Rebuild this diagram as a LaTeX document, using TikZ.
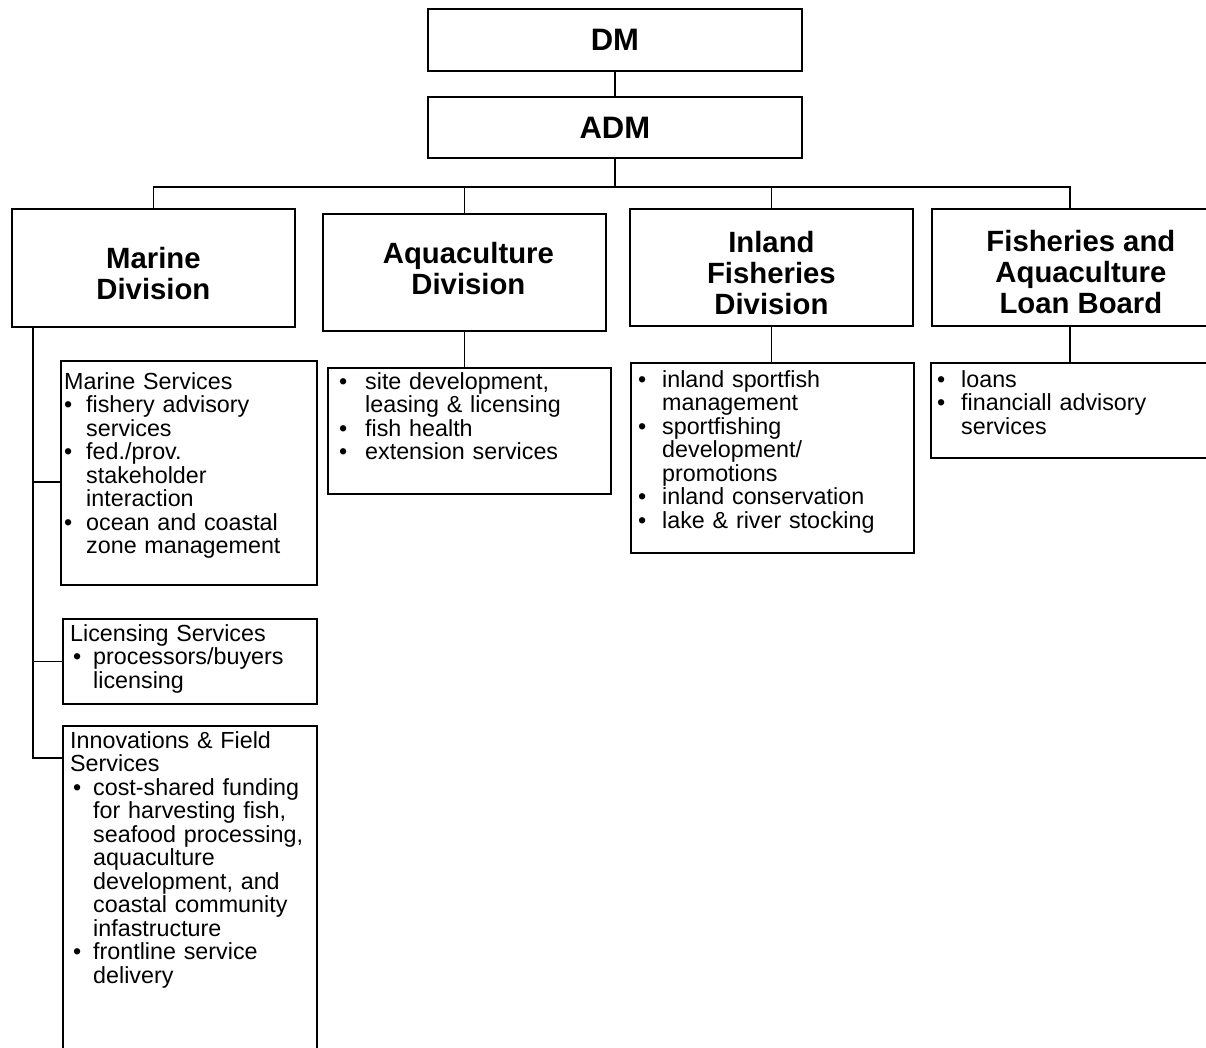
\documentclass[tikz,border=0pt]{standalone}
\usepackage{fontspec}
\setmainfont{Liberation Sans}
\newcommand\bitem[3]{\par\hangindent=#1\hangafter=1\noindent\makebox[#1][l]{\hspace{#2}\textbullet}\strut#3\par}
\newcommand\hdline[1]{\par\noindent\strut#1\par}
\newcommand\tightlines{\lineskiplimit=-50pt\relax}
\begin{document}
\begin{tikzpicture}[x=1pt,y=-1pt,
 box/.style={draw, line width=1.8pt, rectangle, inner sep=0pt, anchor=north west, align=center},
 ttl/.style={font=\bfseries\fontsize{29.3}{31}\selectfont\tightlines, align=center, inner sep=0pt},
 big/.style={font=\bfseries\fontsize{31}{33}\selectfont},
 txt/.style={anchor=north west, inner sep=0pt, align=left, text width=290pt, font=\fontsize{23.3}{23.5}\selectfont\tightlines},
 conn/.style={line width=1.8pt}]
\useasboundingbox (0,0) rectangle (1206,1047);
\clip (0,0) rectangle (1206,1047);
% top level
\node[box,big,minimum width=374pt,minimum height=62pt] (dm) at (427,8) {DM};
\node[box,big,minimum width=374pt,minimum height=61pt] (adm) at (427,96) {ADM};
% divisions
\node[box,minimum width=283pt,minimum height=118pt] (marine) at (11,208) {};
\node[box,minimum width=283pt,minimum height=117pt] (aqua) at (322,213) {};
\node[box,minimum width=283pt,minimum height=117pt] (inland) at (629,208) {};
\node[box,minimum width=298pt,minimum height=117pt] (loan) at (931,208) {};
\node[ttl] (marinettl) at ([yshift=-6pt]marine.center) {Marine\\Division};
\node[ttl] (aquattl) at ([xshift=4pt,yshift=4pt]aqua.center) {Aquaculture\\Division};
\node[ttl] (inlandttl) at ([yshift=-6pt]inland.center) {Inland\\Fisheries\\Division};
\node[ttl] (loanttl) at ([yshift=-5pt]loan.center) {Fisheries and\\Aquaculture\\Loan Board};
% sub boxes
\node[box,minimum width=283pt,minimum height=126pt] (aquasub) at (327,367) {};
\node[box,minimum width=283pt,minimum height=190pt] (inlandsub) at (630,362) {};
\node[box,minimum width=299pt,minimum height=95pt] (loansub) at (930,362) {};
\node[box,minimum width=256pt,minimum height=224pt] (msvc) at (60,360) {};
\node[box,minimum width=254pt,minimum height=85pt] (lic) at (62,618) {};
\node[box,minimum width=254pt,minimum height=340pt] (innov) at (62,725) {};
% texts
\node[txt] (aquatxt) at (339,365.5) {%
\bitem{26pt}{0pt}{site development,\newline leasing \& licensing}%
\bitem{26pt}{0pt}{fish health}%
\bitem{26pt}{0pt}{extension services}};
\node[txt] (inlandtxt) at (638,363.5) {%
\bitem{24pt}{0pt}{inland sportfish\newline management}%
\bitem{24pt}{0pt}{sportfishing\newline development/\newline promotions}%
\bitem{24pt}{0pt}{inland conservation}%
\bitem{24pt}{0pt}{lake \& river stocking}};
\node[txt] (loantxt) at (937,363.5) {%
\bitem{24pt}{0pt}{loans}%
\bitem{24pt}{0pt}{financiall advisory\newline services}};
\node[txt] (msvctxt) at (64,365.5) {%
\hdline{Marine Services}%
\bitem{22pt}{0pt}{fishery advisory\newline services}%
\bitem{22pt}{0pt}{fed./prov.\newline stakeholder\newline interaction}%
\bitem{22pt}{0pt}{ocean and coastal\newline zone management}};
\node[txt] (lictxt) at (70,617.5) {%
\hdline{Licensing Services}%
\bitem{23pt}{3pt}{processors/buyers\newline licensing}};
\node[txt] (innovtxt) at (70,724.5) {%
\hdline{Innovations \& Field\newline Services}%
\bitem{23pt}{3pt}{cost-shared funding\newline for harvesting fish,\newline seafood processing,\newline aquaculture\newline development, and\newline coastal community\newline infastructure}%
\bitem{23pt}{3pt}{frontline service\newline delivery}};
% connectors
\coordinate (bus) at ([yshift=-28pt]adm.south);
\draw[conn] (dm.south) -- (adm.north);
\draw[conn] (adm.south) -- (bus);
\draw[conn] (bus) -| (marine.north);
\draw[conn] (bus) -| (aqua.north);
\draw[conn] (bus) -| (inland.north);
\draw[conn] (bus) -| ([xshift=139pt]loan.north west);
\draw[conn] (aqua.south) -- (aqua.south |- aquasub.north);
\draw[conn] (inland.south) -- (inland.south |- inlandsub.north);
\draw[conn] ([xshift=139pt]loan.south west) -- ([xshift=139pt]loan.south west |- loansub.north);
\coordinate (mtop) at ([xshift=22pt]marine.south west);
\draw[conn] (mtop) |- ([yshift=-122pt]msvc.north west);
\draw[conn] (mtop) |- (lic.west);
\draw[conn] (mtop) |- ([yshift=-33pt]innov.north west);
\end{tikzpicture}
\end{document}
